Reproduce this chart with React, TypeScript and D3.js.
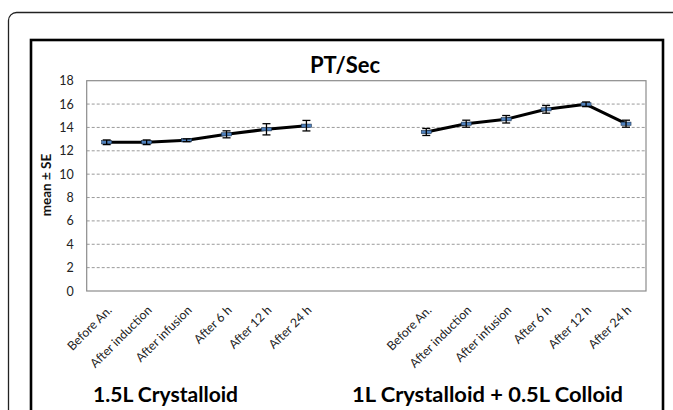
import { useRef, useEffect } from "react";
import * as d3 from "d3";

// two groups of six time points, with two blank slots between them
const leftLabels = ["Before An.", "After induction", "After infusion", "After 6 h", "After 12 h", "After 24 h"];
const rightLabels = ["Before An.", "After induction", "After infusion", "After 6 h", "After 12 h", "After 24 h"];
const leftMeans = [12.73, 12.73, 12.9, 13.41, 13.84, 14.15];
const leftSE = [0.2, 0.2, 0.12, 0.3, 0.48, 0.45];
const rightMeans = [13.61, 14.32, 14.7, 15.55, 15.98, 14.32];
const rightSE = [0.3, 0.3, 0.32, 0.33, 0.2, 0.3];
const yTicks = [0, 2, 4, 6, 8, 10, 12, 14, 16, 18];
const groupTitles = ["1.5L Crystalloid", "1L Crystalloid + 0.5L Colloid"];

const FONT = "Lato, 'Open Sans', sans-serif";

export default function App() {
  const svgRef = useRef<SVGSVGElement>(null);

  useEffect(() => {
    const W = 673, H = 410;
    const svg = d3.select(svgRef.current);
    svg.selectAll("*").remove();

    // outer rounded frame and inner chart frame
    svg.append("rect")
      .attr("x", 8.5).attr("y", 12.5).attr("width", 720).attr("height", 440)
      .attr("rx", 8).attr("fill", "#fff").attr("stroke", "#222").attr("stroke-width", 1.3);
    svg.append("rect")
      .attr("x", 31).attr("y", 40).attr("width", 632).attr("height", 420)
      .attr("fill", "#fff").attr("stroke", "#000").attr("stroke-width", 2.6);

    const plot = { left: 86.7, right: 646, top: 80.7, bottom: 291 };

    const slots = [...leftLabels.map((_, i) => `L${i}`), "gap1", "gap2", ...rightLabels.map((_, i) => `R${i}`)];
    const x = d3.scaleBand().domain(slots).range([plot.left, plot.right]);
    const y = d3.scaleLinear().domain([0, 18]).range([plot.bottom, plot.top]);
    const cx = (k: string) => (x(k) as number) + x.bandwidth() / 2;

    // gridlines
    svg.append("g")
      .selectAll("line")
      .data(yTicks.filter((t) => t > 0 && t < 18))
      .join("line")
      .attr("x1", plot.left).attr("x2", plot.right)
      .attr("y1", (d) => y(d)).attr("y2", (d) => y(d))
      .attr("stroke", "#9a9a9a").attr("stroke-width", 1)
      .attr("stroke-dasharray", "3,2");

    // plot border
    svg.append("rect")
      .attr("x", plot.left).attr("y", plot.top)
      .attr("width", plot.right - plot.left).attr("height", plot.bottom - plot.top)
      .attr("fill", "none").attr("stroke", "#8c8c8c").attr("stroke-width", 1.2);

    // y axis labels
    const yAxisG = svg.append("g").attr("transform", `translate(${plot.left},0)`)
      .call(d3.axisLeft(y).tickValues(yTicks).tickSize(0).tickPadding(13));
    yAxisG.select(".domain").remove();
    yAxisG.selectAll("text").attr("fill", "#222").attr("font-size", "12.5px").attr("font-family", FONT);

    svg.append("text")
      .attr("transform", `translate(48,185) rotate(-90)`)
      .attr("text-anchor", "middle").attr("dominant-baseline", "middle")
      .attr("font-family", FONT).attr("font-weight", "bold").attr("font-size", "13.5px")
      .attr("fill", "#111")
      .text("mean ± SE");

    // x category labels
    const labelData = [
      ...leftLabels.map((t, i) => ({ key: `L${i}`, t })),
      ...rightLabels.map((t, i) => ({ key: `R${i}`, t })),
    ];
    svg.append("g").selectAll("text")
      .data(labelData)
      .join("text")
      .attr("transform", (d) => `translate(${cx(d.key) + 6},${plot.bottom + 20}) rotate(-45)`)
      .attr("text-anchor", "end")
      .attr("font-family", FONT).attr("font-size", "12.3px").attr("fill", "#222")
      .text((d) => d.t);

    // series
    const groups = [
      { keys: leftLabels.map((_, i) => `L${i}`), mean: leftMeans, se: leftSE },
      { keys: rightLabels.map((_, i) => `R${i}`), mean: rightMeans, se: rightSE },
    ];
    groups.forEach((grp) => {
      const pts = grp.mean.map((m, i) => [cx(grp.keys[i]), y(m)] as [number, number]);
      svg.append("path")
        .attr("d", d3.line()(pts))
        .attr("fill", "none").attr("stroke", "#000").attr("stroke-width", 3)
        .attr("stroke-linejoin", "round");

      const g = svg.append("g");
      grp.mean.forEach((m, i) => {
        const px = cx(grp.keys[i]);
        // marker: short blue dash
        g.append("rect")
          .attr("x", px - 5).attr("y", y(m) - 1.6).attr("width", 10).attr("height", 3.2)
          .attr("fill", "#4f81bd").attr("stroke", "#1f3550").attr("stroke-width", 0.6);
        // error bar
        const y1 = y(m + grp.se[i]), y2 = y(m - grp.se[i]);
        g.append("line").attr("x1", px).attr("x2", px).attr("y1", y1).attr("y2", y2)
          .attr("stroke", "#000").attr("stroke-width", 1.3);
        [y1, y2].forEach((yy) =>
          g.append("line").attr("x1", px - 4).attr("x2", px + 4).attr("y1", yy).attr("y2", yy)
            .attr("stroke", "#000").attr("stroke-width", 1.3)
        );
      });
    });

    // chart title
    svg.append("text")
      .attr("x", 345).attr("y", 73)
      .attr("text-anchor", "middle")
      .attr("font-family", FONT).attr("font-weight", "bold").attr("font-size", "22px")
      .attr("fill", "#000")
      .text("PT/Sec");

    // group captions
    const captionX = [93, 352];
    const captionW = [145, 271];
    groupTitles.forEach((t, i) => {
      svg.append("text")
        .attr("x", captionX[i]).attr("y", 401.5)
        .attr("textLength", captionW[i]).attr("lengthAdjust", "spacingAndGlyphs")
        .attr("font-family", FONT).attr("font-weight", "bold").attr("font-size", "21px")
        .attr("fill", "#000")
        .text(t);
    });

    svg.attr("width", W).attr("height", H);
  }, []);

  return (
    <svg
      ref={svgRef}
      width={673}
      height={410}
      style={{ position: "absolute", left: 0, top: 0, background: "#fff" }}
    />
  );
}
